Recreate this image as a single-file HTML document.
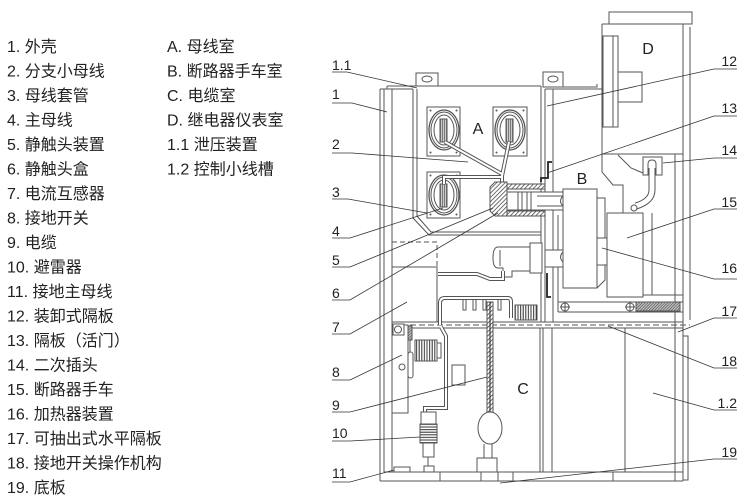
<!DOCTYPE html>
<html><head><meta charset="utf-8"><style>
html,body{margin:0;padding:0;background:#fff;}
svg{display:block;}
.lg{font-family:"Liberation Sans","Noto Sans CJK SC",sans-serif;font-size:16px;fill:#222;}
.lb{font-family:"Liberation Sans",sans-serif;font-size:14px;fill:#222;}
.big{font-family:"Liberation Sans",sans-serif;font-size:16px;fill:#222;}
</style></head><body>
<svg width="750" height="502" viewBox="0 0 750 502" xmlns="http://www.w3.org/2000/svg">
<defs>
<pattern id="h" width="3" height="3" patternUnits="userSpaceOnUse" patternTransform="rotate(45)"><rect width="3" height="3" fill="#fff"/><line x1="0" y1="0" x2="0" y2="3" stroke="#333" stroke-width="1.4"/></pattern>
<pattern id="hd" width="2" height="2" patternUnits="userSpaceOnUse" patternTransform="rotate(45)"><rect width="2" height="2" fill="#bbb"/><line x1="0" y1="0" x2="0" y2="2" stroke="#333" stroke-width="0.9"/></pattern>
<pattern id="v" width="2.6" height="4" patternUnits="userSpaceOnUse"><rect width="2.6" height="4" fill="#fff"/><line x1="0.6" y1="0" x2="0.6" y2="4" stroke="#333" stroke-width="1"/></pattern>
<pattern id="hz" width="4" height="2.6" patternUnits="userSpaceOnUse"><rect width="4" height="2.6" fill="#fff"/><line x1="0" y1="0.6" x2="4" y2="0.6" stroke="#333" stroke-width="1"/></pattern>
<pattern id="bar" width="2" height="4" patternUnits="userSpaceOnUse"><rect width="2" height="4" fill="#ccc"/><line x1="0.5" y1="0" x2="0.5" y2="4" stroke="#666" stroke-width="0.8"/></pattern>
</defs>

<!-- Legend -->
<g class="lg">
<text x="7" y="52">1. 外壳</text>
<text x="7" y="76.5">2. 分支小母线</text>
<text x="7" y="101">3. 母线套管</text>
<text x="7" y="125.5">4. 主母线</text>
<text x="7" y="150">5. 静触头装置</text>
<text x="7" y="174.5">6. 静触头盒</text>
<text x="7" y="199">7. 电流互感器</text>
<text x="7" y="223.5">8. 接地开关</text>
<text x="7" y="248">9. 电缆</text>
<text x="7" y="272.5">10. 避雷器</text>
<text x="7" y="297">11. 接地主母线</text>
<text x="7" y="321.5">12. 装卸式隔板</text>
<text x="7" y="346">13. 隔板（活门）</text>
<text x="7" y="370.5">14. 二次插头</text>
<text x="7" y="395">15. 断路器手车</text>
<text x="7" y="419.5">16. 加热器装置</text>
<text x="7" y="444">17. 可抽出式水平隔板</text>
<text x="7" y="468.5">18. 接地开关操作机构</text>
<text x="7" y="493">19. 底板</text>
<text x="167" y="52">A. 母线室</text>
<text x="167" y="76.5">B. 断路器手车室</text>
<text x="167" y="101">C. 电缆室</text>
<text x="167" y="125.5">D. 继电器仪表室</text>
<text x="167" y="150">1.1 泄压装置</text>
<text x="167" y="174.5">1.2 控制小线槽</text>
</g>

<!-- Drawing -->
<g stroke="#555" stroke-width="1" fill="none">
<!-- left side panel -->
<path d="M380 89 V481 M384 89 V472 M392 89 V472 M380 89 H413 M387 86 V89"/>
<!-- roof A -->
<path d="M387 86 H541"/>
<!-- A compartment walls -->
<path d="M413 89 V218 L429 235 H541 M417 89 V216 L431 232 H541"/>
<!-- A/B partition -->
<path d="M541 86 V322 M545 89 V322 M553 89 V322 M558 215 V302"/>
<!-- lugs -->
<rect x="416" y="73" width="22" height="13" fill="#fff"/><ellipse cx="427" cy="79" rx="5" ry="3"/>
<rect x="543" y="72" width="20" height="15" fill="#fff"/><ellipse cx="553" cy="79" rx="5" ry="3"/>
<!-- B roof -->
<path d="M563 87 H597 V84 M545 89 H602"/>
<!-- D -->
<rect x="609" y="12" width="83" height="12"/>
<path d="M602 24 H690 M602 24 V172 L613 185 H623 V213 M602 154 H683"/>
<rect x="603" y="36" width="15" height="91"/><line x1="613" y1="36" x2="613" y2="127"/>
<rect x="618" y="72" width="24" height="30"/>
<path d="M683 24 V481 M690 27 V320 M675 154 V481"/>
<path d="M683 336 H688 V480 H683"/>
<!-- mechanism trapezoid -->
<path d="M618 155 L631 168 L643 173"/>
<!-- plug 14 -->
<rect x="643" y="157" width="19" height="18" fill="#fff"/>
<path d="M648 175 V164 Q648 160 652 160 Q656 160 656 164 V175"/>
<path d="M652 168 V190 Q652 201 636 206" stroke="#555" stroke-width="7"/>
<path d="M652 168 V190 Q652 201 636 206" stroke="#fff" stroke-width="5"/>
<circle cx="634" cy="208" r="3" fill="#fff"/>

<!-- bushings -->
<g>
<rect x="427" y="107" width="33" height="49" fill="#fff"/>
<ellipse cx="444" cy="130" rx="15" ry="20" stroke-width="1.3"/>
<ellipse cx="444" cy="130" rx="13" ry="18"/>
<ellipse cx="444" cy="130" rx="10" ry="15"/>
<rect x="440" y="119" width="7" height="23" fill="url(#bar)"/>
<rect x="493" y="107" width="34" height="49" fill="#fff"/>
<ellipse cx="510" cy="130" rx="15" ry="20" stroke-width="1.3"/>
<ellipse cx="510" cy="130" rx="13" ry="18"/>
<ellipse cx="510" cy="130" rx="10" ry="15"/>
<rect x="506" y="119" width="7" height="23" fill="url(#bar)"/>
<rect x="427" y="172" width="33" height="46" fill="#fff"/>
<ellipse cx="444" cy="195" rx="15" ry="20" stroke-width="1.3"/>
<ellipse cx="444" cy="195" rx="13" ry="18"/>
<ellipse cx="444" cy="195" rx="10" ry="15"/>
<rect x="440" y="184" width="7" height="23" fill="url(#bar)"/>
</g>
<g fill="#555" stroke="none">
<circle cx="430.5" cy="110.5" r="1"/><circle cx="456.5" cy="110.5" r="1"/><circle cx="430.5" cy="152.5" r="1"/><circle cx="456.5" cy="152.5" r="1"/>
<circle cx="496.5" cy="110.5" r="1"/><circle cx="523.5" cy="110.5" r="1"/><circle cx="496.5" cy="152.5" r="1"/><circle cx="523.5" cy="152.5" r="1"/>
<circle cx="430.5" cy="175.5" r="1"/><circle cx="456.5" cy="175.5" r="1"/><circle cx="430.5" cy="214.5" r="1"/><circle cx="456.5" cy="214.5" r="1"/>
</g>
<!-- branch busbars -->
<path d="M445 142 L502 174 M509 142 L502 176 V184 M444 184 V177 H502" stroke="#555" stroke-width="4"/>
<path d="M445 142 L502 174 M509 142 L502 176 V184 M444 184 V177 H502" stroke="#fff" stroke-width="2"/>

<!-- static contact -->
<rect x="505" y="184" width="40" height="5" fill="url(#h)"/>
<rect x="505" y="211" width="40" height="5" fill="url(#h)"/>
<path d="M490 187 L495 182 H507 V216 H495 L490 211 Z" fill="url(#h)"/>
<rect x="507" y="192" width="58" height="18" fill="#fff"/>
<path d="M565 192 Q570 201 565 210"/>
<path d="M518 192 V210 M522 192 V210 M527 192 V210 M531 192 V210"/>
<path d="M537 196 H565 M537 206 H565"/>
<!-- shutter 13 -->
<path d="M552 162 H548 V178 H541 V182" stroke="#222" stroke-width="1.8"/>
<path d="M547 273 V297 H551" stroke="#222" stroke-width="1.8"/>

<!-- lower contact spout -->
<path d="M498 247 H530 V243 H542 V273 H530 V271 H512 V277 H503 V268 H498 Q493 268 493 258 Q493 247 498 247 Z" fill="#fff"/>
<path d="M500 250 V266 M530 247 V271"/>
<rect x="545" y="250" width="18" height="17" fill="#fff"/>

<!-- breaker -->
<rect x="563" y="189" width="34" height="99" fill="#fff"/>
<path d="M563 196 Q558 201 563 206 M563 252 Q558 257 563 262"/>
<path d="M597 198 H605 V280 L597 288"/>
<rect x="597" y="238" width="10" height="27" fill="#fff"/>
<rect x="607" y="213" width="36" height="84" fill="#fff"/>
<path d="M652 213 V295 M643 295 H683"/>
<!-- rail -->
<path d="M558 302 H683 M558 312 H683 M558 302 V312"/>
<circle cx="565" cy="307" r="4" fill="#fff"/><path d="M560 307 H570 M565 302 V312"/>
<circle cx="630" cy="307" r="4" fill="#fff"/><path d="M625 307 H635 M630 302 V312"/>
<rect x="636" y="302" width="44" height="9" fill="url(#hd)"/>

<!-- partition 17 -->
<path d="M392 322 H683 M392 328 H683"/>
<path d="M392 325 H690" stroke-dasharray="6 3"/>

<!-- CT -->
<path d="M392 242 H437 V267" stroke-dasharray="5 3"/>
<rect x="392" y="267" width="45" height="55" fill="#fff"/>
<path d="M438 274 H477 L490 279 H503 V271" stroke="#555" stroke-width="4"/>
<path d="M438 274 H477 L490 279 H503 V271" stroke="#fff" stroke-width="2"/>
<!-- lower busbar -->
<path d="M440 325 V303 Q440 298 445 298 H508 Q511 298 511 302 V318" stroke="#555" stroke-width="4"/>
<path d="M440 325 V303 Q440 298 445 298 H508 Q511 298 511 302 V318" stroke="#fff" stroke-width="2"/>
<path d="M463 299 V310 H466 V299 M473 299 V310 H476 V299 M483 299 V310 H486 V299 M498 299 V310 H501 V299"/>
<rect x="515" y="305" width="22" height="15" fill="url(#v)"/>

<!-- C compartment -->
<path d="M540 328 V472 M543 328 V472 M552 328 V472 M625 328 V472"/>
<!-- cable 9 -->
<rect x="487" y="302" width="6" height="110" fill="url(#h)"/>
<path d="M490 302 V412" stroke="#222"/>
<ellipse cx="490" cy="428" rx="12" ry="16" fill="#fff"/>
<path d="M484 444 V458 M492 444 V458 M481 458 V481" />
<rect x="477" y="458" width="20" height="14" fill="#fff"/>

<!-- earth switch -->
<rect x="392" y="325" width="16" height="88" fill="#fff"/>
<rect x="393" y="324" width="11" height="11" fill="#fff"/><circle cx="398" cy="329.5" r="3.5"/>
<circle cx="402" cy="367" r="3"/>
<rect x="408" y="326" width="4" height="14" fill="url(#hd)"/>
<path d="M410 340 V378"/>
<rect x="408" y="352" width="5" height="26" rx="2.5" fill="#fff"/>
<rect x="415" y="340" width="22" height="21" fill="url(#v)"/>
<rect x="437" y="343" width="4" height="15"/>
<rect x="452" y="365" width="13" height="20"/>
<path d="M441 327 L446 336 V408 H425 V413" stroke="#555" stroke-width="4"/>
<path d="M441 327 L446 336 V408 H425 V413" stroke="#fff" stroke-width="2"/>
<!-- surge arrester -->
<rect x="421" y="412" width="15" height="12" fill="#fff"/>
<rect x="420" y="424" width="17" height="19" fill="url(#hz)"/>
<rect x="423" y="443" width="11" height="14" fill="#fff"/>
<path d="M428 457 V466"/>
<rect x="424" y="466" width="10" height="6"/>
<!-- ground bar -->
<rect x="394" y="467" width="16" height="5"/>
<!-- floor -->
<path d="M384 472 H683 M380 481 H683"/>
<path d="M440 472 V481 M498 472 V481 M513 472 V481 M613 472 V481"/>
</g>

<!-- compartment letters -->
<g class="big">
<text x="478" y="134" text-anchor="middle">A</text>
<text x="582" y="184" text-anchor="middle">B</text>
<text x="523" y="394" text-anchor="middle">C</text>
<text x="648" y="54" text-anchor="middle">D</text>
</g>

<!-- leaders -->
<g stroke="#333" stroke-width="0.8" fill="none">
<path d="M332 72 H347 L417 88"/>
<path d="M332 103 H352 L387 112"/>
<path d="M332 153 H352 L468 162"/>
<path d="M332 199 H348 L427 213"/>
<path d="M332 238 H350 L443 208"/>
<path d="M332 267 H350 L493 208"/>
<path d="M332 300 H350 L498 213"/>
<path d="M332 334 H350 L407 302"/>
<path d="M332 380 H350 L402 355"/>
<path d="M332 412 H350 L487 377"/>
<path d="M332 441 H350 L420 437"/>
<path d="M332 482 H350 L394 470"/>
<path d="M737 69 H714 L547 106"/>
<path d="M737 116 H714 L547 173"/>
<path d="M737 158 H714 L663 163"/>
<path d="M737 209 H714 L627 238"/>
<path d="M737 279 H714 L602 248"/>
<path d="M737 318 H714 L678 332"/>
<path d="M737 368 H714 L608 326"/>
<path d="M737 410 H714 L653 393"/>
<path d="M737 459 H714 L500 483"/>
</g>
<g class="lb">
<text x="332" y="70">1.1</text>
<text x="332" y="99">1</text>
<text x="332" y="149">2</text>
<text x="332" y="197">3</text>
<text x="332" y="236">4</text>
<text x="332" y="265">5</text>
<text x="332" y="298">6</text>
<text x="332" y="332">7</text>
<text x="332" y="377">8</text>
<text x="332" y="410">9</text>
<text x="332" y="438">10</text>
<text x="332" y="478">11</text>
<text x="737" y="66" text-anchor="end">12</text>
<text x="737" y="113" text-anchor="end">13</text>
<text x="737" y="155" text-anchor="end">14</text>
<text x="737" y="207" text-anchor="end">15</text>
<text x="737" y="273" text-anchor="end">16</text>
<text x="737" y="316" text-anchor="end">17</text>
<text x="737" y="366" text-anchor="end">18</text>
<text x="737" y="408" text-anchor="end">1.2</text>
<text x="737" y="457" text-anchor="end">19</text>
</g>
</svg>
</body></html>
